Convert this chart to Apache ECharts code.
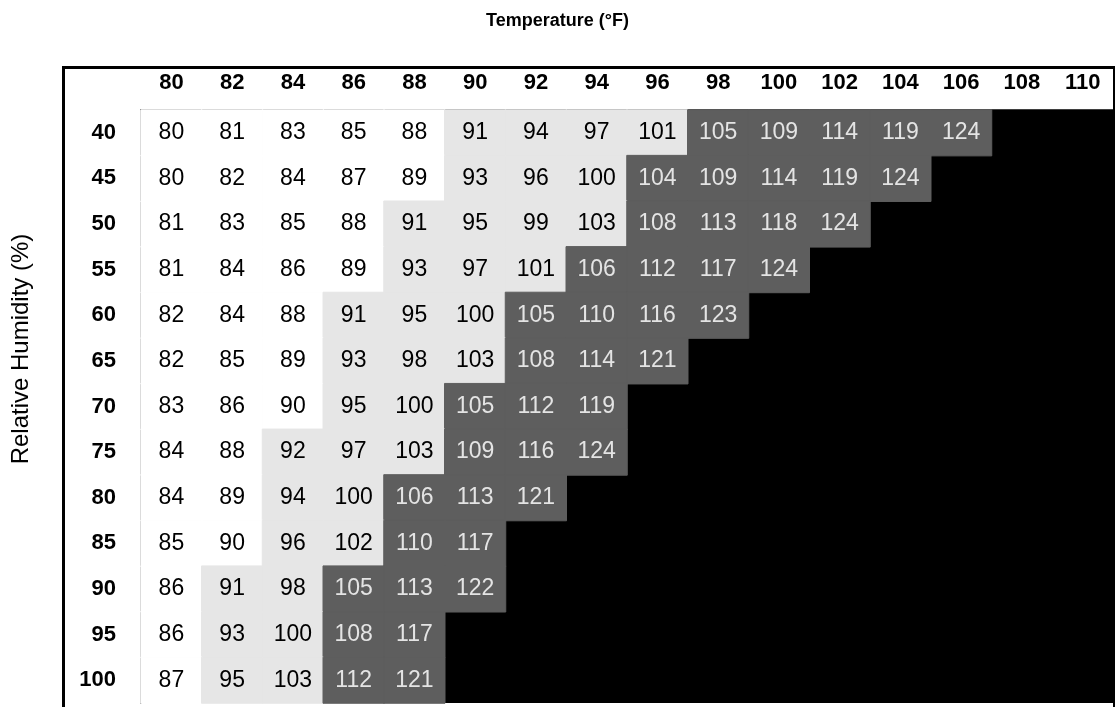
<!DOCTYPE html>
<html>
<head>
<meta charset="utf-8">
<script src="https://cdn.jsdelivr.net/npm/echarts@6/dist/echarts.min.js"></script>
<style>html,body{margin:0;padding:0;background:#fff}#c{width:1115px;height:707px}</style>
</head>
<body>
<div id="c"></div>
<script>
// Temperature columns (°F) and relative humidity rows (%)
const temps = ['80','82','84','86','88','90','92','94','96','98','100','102','104','106','108','110'];
const humidity = ['40','45','50','55','60','65','70','75','80','85','90','95','100'];

// Heat index values per humidity row, starting at 80°F (cells beyond are extreme/black)
const hi40  = [80,81,83,85,88,91,94,97,101,105,109,114,119,124];
const hi45  = [80,82,84,87,89,93,96,100,104,109,114,119,124];
const hi50  = [81,83,85,88,91,95,99,103,108,113,118,124];
const hi55  = [81,84,86,89,93,97,101,106,112,117,124];
const hi60  = [82,84,88,91,95,100,105,110,116,123];
const hi65  = [82,85,89,93,98,103,108,114,121];
const hi70  = [83,86,90,95,100,105,112,119];
const hi75  = [84,88,92,97,103,109,116,124];
const hi80  = [84,89,94,100,106,113,121];
const hi85  = [85,90,96,102,110,117];
const hi90  = [86,91,98,105,113,122];
const hi95  = [86,93,100,108,117];
const hi100 = [87,95,103,112,121];

const rows = [hi40,hi45,hi50,hi55,hi60,hi65,hi70,hi75,hi80,hi85,hi90,hi95,hi100];

const C_WHITE = '#ffffff', C_LIGHT = '#e6e6e6', C_DARK = '#5e5e5e';
function zoneColor(v) { return v <= 90 ? C_WHITE : (v <= 103 ? C_LIGHT : C_DARK); }

const data = [];
rows.forEach((r, yi) => {
  r.forEach((v, xi) => {
    data.push({
      value: [xi, yi, v],
      label: { color: v > 103 ? '#e4e4e4' : '#000' },
      itemStyle: { borderColor: zoneColor(v), borderWidth: 1 }
    });
  });
});

const FONT = '"Liberation Sans", Arial, sans-serif';
const chart = echarts.init(document.getElementById('c'));
chart.setOption({
  animation: false,
  backgroundColor: '#fff',
  title: {
    text: 'Temperature (°F)',
    left: 'center',
    top: 7,
    textStyle: { fontFamily: FONT, fontSize: 18, fontWeight: 'bold', color: '#000' }
  },
  grid: {
    left: 141, right: 2, top: 110, bottom: 4,
    show: true, backgroundColor: '#000', borderWidth: 0
  },
  xAxis: {
    type: 'category',
    data: temps,
    position: 'top',
    axisLine: { show: true, lineStyle: { color: '#000', width: 1.5 } },
    axisTick: { show: false },
    splitLine: { show: false },
    axisLabel: { color: '#000', fontFamily: FONT, fontSize: 22, fontWeight: 'bold', margin: 16 }
  },
  yAxis: {
    type: 'category',
    data: humidity,
    inverse: true,
    axisLine: { show: true, lineStyle: { color: '#000', width: 1.5 } },
    axisTick: { show: false },
    splitLine: { show: false },
    axisLabel: { color: '#000', fontFamily: FONT, fontSize: 22, fontWeight: 'bold', margin: 25 }
  },
  visualMap: {
    type: 'piecewise',
    show: false,
    dimension: 2,
    pieces: [
      { lte: 90, color: C_WHITE },
      { gt: 90, lte: 103, color: C_LIGHT },
      { gt: 103, color: C_DARK }
    ]
  },
  graphic: [{
    type: 'rect',
    left: 61, top: 65,
    shape: { width: 1051, height: 660 },
    style: { fill: 'none', stroke: '#000', lineWidth: 3 },
    z: 100
  }, {
    type: 'text',
    x: 21, y: 349,
    rotation: Math.PI / 2,
    style: {
      text: 'Relative Humidity (%)',
      fontFamily: FONT, fontSize: 24, fill: '#000',
      align: 'center', verticalAlign: 'middle'
    }
  }],
  series: [{
    type: 'heatmap',
    data: data,
    label: { show: true, fontFamily: FONT, fontSize: 23 },
    emphasis: { disabled: true }
  }]
});
</script>
</body>
</html>
